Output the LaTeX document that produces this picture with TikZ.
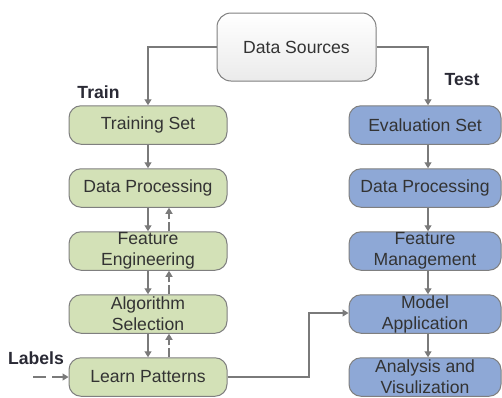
\documentclass[tikz,border=0pt]{standalone}
\usepackage{fontspec}
\setmainfont{Liberation Sans}
\usetikzlibrary{arrows.meta}
\definecolor{boxline}{HTML}{7F7F7F}
\definecolor{trainfill}{HTML}{D3E1B7}
\definecolor{testfill}{HTML}{8EA8D6}
\definecolor{txt}{HTML}{333333}
\definecolor{lbl}{HTML}{2A2A35}
\definecolor{conn}{HTML}{7A7A7A}
\tikzset{
  box/.style={draw=boxline, line width=1pt, rounded corners=12pt, align=center,
    text=txt, font=\fontsize{17.6}{21}\selectfont, inner sep=0pt},
  trainbox/.style={box, fill=trainfill, minimum width=158pt, minimum height=38.5pt},
  testbox/.style={box, fill=testfill, minimum width=152pt, minimum height=38.5pt},
  srcbox/.style={box, rounded corners=14pt, top color=white, bottom color=black!8,
    minimum width=159pt, minimum height=68pt},
  tag/.style={font=\bfseries\fontsize{17.6}{21}\selectfont, text=lbl, inner sep=0pt},
  flow/.style={draw=conn, line width=1.2pt, -{Triangle[length=6pt,width=7pt]}},
  back/.style={flow, dash pattern=on 9pt off 3pt},
}
\begin{document}
\begin{tikzpicture}[x=1pt,y=-1pt]
\useasboundingbox (0,0) rectangle (502,397);

\node[srcbox] (ds) at (296.5,47) {Data Sources};

% training branch
\node[trainbox] (ts)  at (148,125) {Training Set};
\node[trainbox] (dp)  at (148,188) {Data Processing};
\node[trainbox] (fe)  at (148,251) {Feature\\Engineering};
\node[trainbox] (as)  at (148,314) {Algorithm\\Selection};
\node[trainbox] (lp)  at (148,377) {Learn Patterns};

% test branch
\node[testbox] (es)  at (425,125) {Evaluation Set};
\node[testbox] (dp2) at (425,188) {Data Processing};
\node[testbox] (fm)  at (425,251) {Feature\\Management};
\node[testbox] (ma)  at (425,314) {Model\\Application};
\node[testbox] (av)  at (425,377) {Analysis and\\Visulization};

% side labels
\node[tag] (train) at (98.5,92) {Train};
\node[tag] (test)  at (462,80) {Test};
\node[tag] (labels) at (36,358) {Labels};
\coordinate (lin) at (33,377);

% connectors
\draw[flow] (ds.west) -| (ts.north);
\draw[flow] (ds.east) -| ([xshift=3pt]es.north);

\draw[flow] (ts) -- (dp);
\draw[flow] (dp) -- (fe);
\draw[flow] (fe) -- (as);
\draw[flow] (as) -- (lp);
\draw[back] ([xshift=21pt]fe.north) -- ([xshift=21pt]dp.south);
\draw[back] ([xshift=21pt]as.north) -- ([xshift=21pt]fe.south);
\draw[back] ([xshift=21pt]lp.north) -- ([xshift=21pt]as.south);

\draw[flow, dash pattern=on 13pt off 6pt] (lin) -- (lp.west);

\draw[flow] ([xshift=3pt]es.south) -- ([xshift=3pt]dp2.north);
\draw[flow] ([xshift=3pt]dp2.south) -- ([xshift=3pt]fm.north);
\draw[flow] ([xshift=3pt]fm.south) -- ([xshift=3pt]ma.north);
\draw[flow] ([xshift=3pt]ma.south) -- ([xshift=3pt]av.north);

\draw[flow] (lp.east) -- (309,377) |- ([yshift=1pt]ma.west);
\end{tikzpicture}
\end{document}
